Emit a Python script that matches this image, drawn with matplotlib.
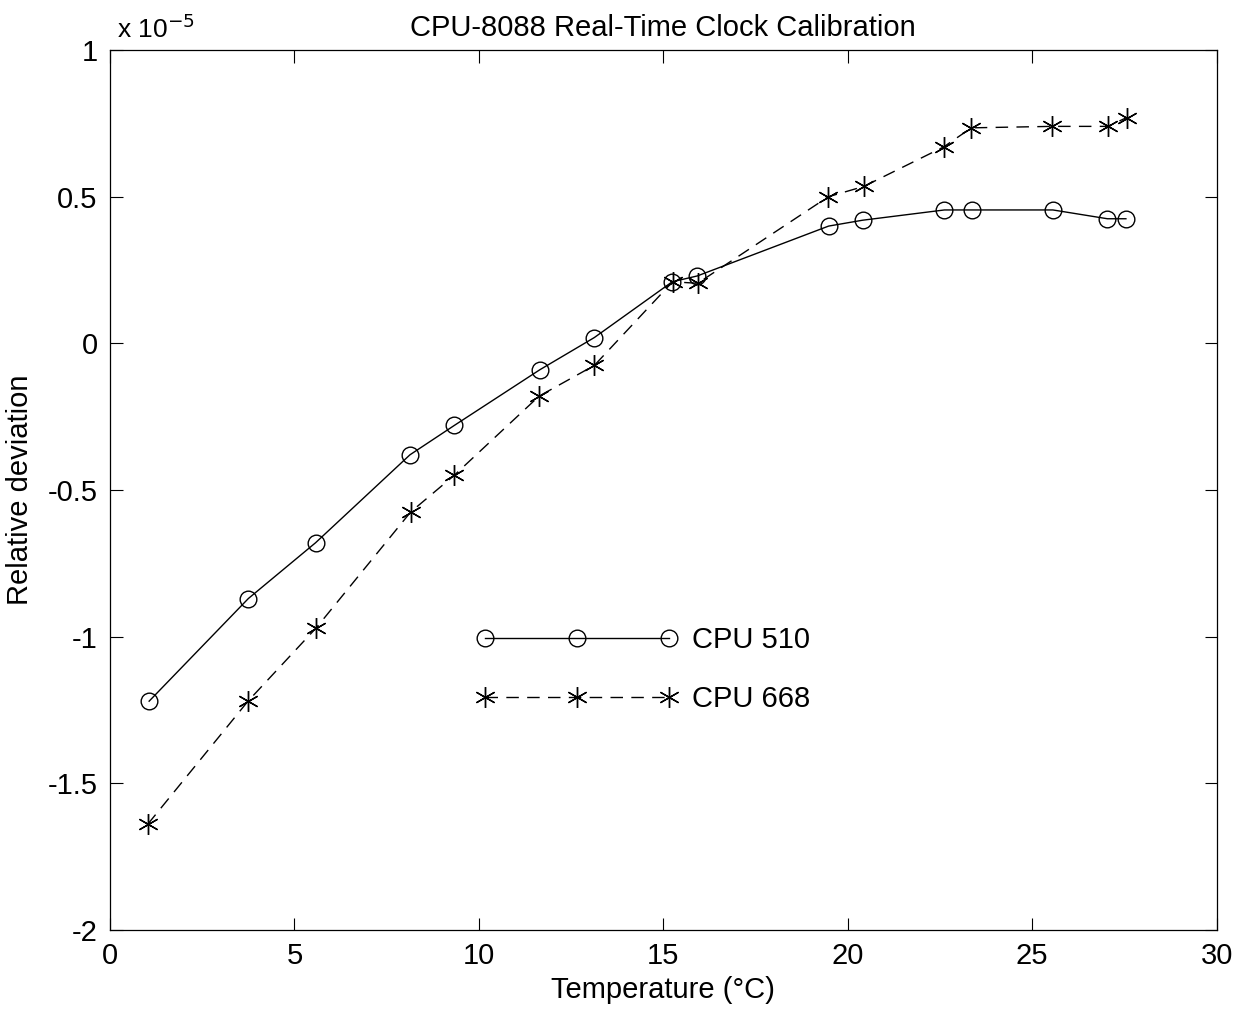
import matplotlib
matplotlib.use("Agg")
import matplotlib.pyplot as plt
from matplotlib.ticker import FuncFormatter

plt.rcParams["font.family"] = ["Liberation Sans", "DejaVu Sans"]

# temperature (deg C) and relative deviation in units of 1e-5
temp_510 = [1.06, 3.75, 5.57, 8.13, 9.33, 11.65, 13.13, 15.24, 15.92,
            19.48, 20.40, 22.62, 23.37, 25.56, 27.04, 27.54]
dev_510 = [-1.22, -0.87, -0.68, -0.38, -0.28, -0.09, 0.02, 0.21, 0.23,
           0.40, 0.42, 0.455, 0.455, 0.455, 0.425, 0.425]

temp_668 = [1.02, 3.74, 5.59, 8.15, 9.33, 11.63, 13.13, 15.25, 15.93,
            19.47, 20.43, 22.60, 23.35, 25.54, 27.05, 27.56]
dev_668 = [-1.64, -1.22, -0.97, -0.575, -0.45, -0.18, -0.075, 0.21, 0.205,
           0.50, 0.535, 0.67, 0.735, 0.74, 0.74, 0.77]

x_ticks = [0, 5, 10, 15, 20, 25, 30]
y_ticks = [-2, -1.5, -1, -0.5, 0, 0.5, 1]

fig = plt.figure(figsize=(12.42, 10.23), dpi=100)
ax = fig.add_axes([0.0886, 0.091, 0.891, 0.86])

star = (6, 2, 0)
ax.plot(temp_510, dev_510, color="black", lw=1.0, marker="o", ms=12,
        mfc="none", mew=1.0, label="CPU 510")
ax.plot(temp_668, dev_668, color="black", lw=1.0, ls=(0, (9, 6)), marker=star,
        ms=15, mew=1.0, label="CPU 668")

ax.set_xlim(0, 30)
ax.set_ylim(-2, 1)
ax.set_xticks(x_ticks)
ax.set_yticks(y_ticks)
ax.yaxis.set_major_formatter(FuncFormatter(lambda v, p: "%g" % v))
ax.tick_params(direction="in", top=True, right=True, length=9, width=0.8,
               labelsize=21, pad=9)
for s in ax.spines.values():
    s.set_linewidth(0.9)

ax.set_title("CPU-8088 Real-Time Clock Calibration", fontsize=21, pad=10)
ax.set_xlabel("Temperature (\u00b0C)", fontsize=21, labelpad=4)
ax.set_ylabel("Relative deviation", fontsize=21, labelpad=10)
ax.text(0.006, 1.008, "x 10$^{-5}$", transform=ax.transAxes, fontsize=19,
        ha="left", va="bottom")

ax.legend(loc="center left", bbox_to_anchor=(0.331, 0.296), frameon=False,
          numpoints=3, handlelength=6.9, fontsize=21, labelspacing=1.05,
          handletextpad=0.5, borderpad=0, borderaxespad=0)

fig.savefig("out.png", dpi=100)
